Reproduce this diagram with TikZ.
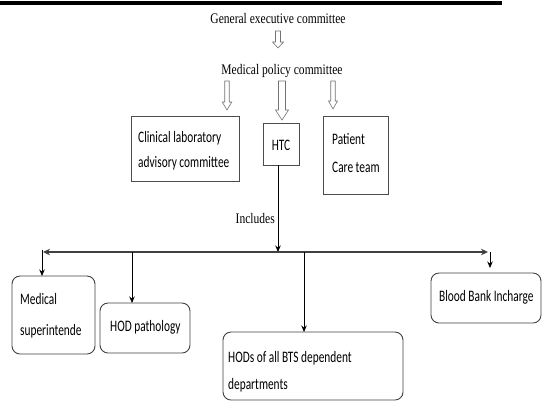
\documentclass[tikz,border=0pt]{standalone}
\usepackage{fontspec}
\usetikzlibrary{arrows.meta}
\newfontfamily\serifc[FakeStretch=0.79]{Liberation Serif}
\newfontfamily\boxfc[FakeStretch=0.71]{Carlito}
\newcommand\sertext{\serifc\fontsize{14.6bp}{17bp}\selectfont}
\newcommand\boxtext{\boxfc\fontsize{16bp}{19bp}\selectfont}
\newcommand\blockarrow[6]{% x, ytop, ybot, shaft w, head w, head len
  \draw[blockarr] (#1-#4/2,#2) -- (#1-#4/2,#3-#6) -- (#1-#5/2,#3-#6) -- (#1,#3)
    -- (#1+#5/2,#3-#6) -- (#1+#4/2,#3-#6) -- (#1+#4/2,#2) -- cycle;}
\tikzset{
  blockarr/.style={draw=black!55, fill=white, line width=0.6bp, line join=miter},
  topbox/.style={draw=black!70, line width=0.9bp, inner sep=0pt, outer sep=0pt, fill=white},
  botbox/.style={draw=black!75, line width=0.9bp, rounded corners=8bp, inner sep=0pt, outer sep=0pt, fill=white},
  sertxt/.style={font=\sertext, inner sep=0pt},
  boxtxt/.style={font=\boxtext, inner sep=0pt, align=left, anchor=west},
  conn/.style={draw=black, line width=0.8bp, -{Stealth[length=6.5bp,width=5.5bp]}},
  mainline/.style={draw=black!75, line width=1.5bp, {Stealth[length=7bp,width=6.5bp]}-{Stealth[length=7bp,width=6.5bp]}},
}
\begin{document}
\begin{tikzpicture}[x=1bp,y=-1bp]
\useasboundingbox (0,0) rectangle (542,401);
% top black bar
\fill[black] (0,1) rectangle (502,4.5);

% headings
\node[sertxt] (gen) at (278,19) {General executive committee};
\node[sertxt] (med) at (282,71) {Medical policy committee};

% block arrows
\blockarrow{278}{31}{48}{5}{11}{6}
\blockarrow{227}{81}{110}{4.5}{9.5}{8}
\blockarrow{282}{81}{120}{7}{13}{10}
\blockarrow{333}{81}{109}{4.5}{9}{8}

% top boxes
\node[topbox, minimum width=108bp, minimum height=65bp] (clab) at (185,148.5) {};
\node[boxtxt] (clabt) at (138,150.5) {Clinical laboratory\\[6bp]advisory committee};
\node[topbox, minimum width=36bp, minimum height=42bp] (htc) at (281,144) {};
\node[font=\boxtext, inner sep=0pt] (htct) at (281,145) {HTC};
\node[topbox, minimum width=65bp, minimum height=78bp] (pct) at (355.5,155) {};
\node[boxtxt] (pctt) at (332,153) {Patient\\[9bp]Care team};

% includes
\coordinate (J) at (278,252);
\draw[conn] (htc.south -| J) -- (J);
\node[sertxt, anchor=east] (inc) at (275,218) {Includes};

% main distribution line
\coordinate (L) at (43,252);
\coordinate (R) at (488,252);
\draw[mainline] (R) -- (L);

% bottom boxes
\node[botbox, minimum width=83bp, minimum height=78bp] (ms) at (53.5,315) {};
\node[boxtxt] (mst) at (20,316) {Medical\\[12bp]superintende};
\node[botbox, minimum width=90bp, minimum height=50bp] (hp) at (145,328) {};
\node[boxtxt] (hpt) at (110,327) {HOD pathology};
\node[botbox, minimum width=180bp, minimum height=68bp] (hb) at (313,366) {};
\node[boxtxt] (hbt) at (228,371.5) {HODs of all BTS dependent\\[8bp]departments};
\node[botbox, minimum width=110bp, minimum height=50bp] (bb) at (486,298) {};
\node[boxtxt] (bbt) at (439,297) {Blood Bank Incharge};

% drops
\coordinate (Lb) at (42,250);
\draw[conn] (Lb) -- (ms.north -| Lb);
\coordinate (P1) at (132,252);
\draw[conn] (P1) -- (hp.north -| P1);
\coordinate (P2) at (304,252);
\draw[conn] (P2) -- (hb.north -| P2);
\coordinate (Rb) at (490,252);
\coordinate (Re) at (490,268);
\draw[conn] (Rb) -- (Re);
\end{tikzpicture}
\end{document}
